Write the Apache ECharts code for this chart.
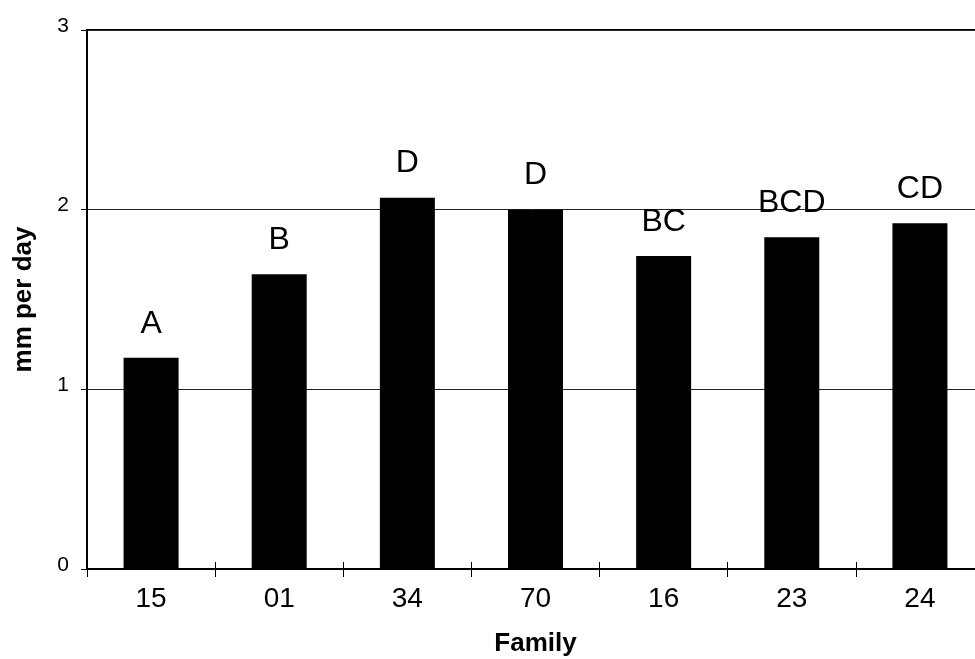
<!DOCTYPE html>
<html>
<head>
<meta charset="utf-8">
<script src="https://cdn.jsdelivr.net/npm/echarts@6/dist/echarts.min.js"></script>
<style>
html,body{margin:0;padding:0;background:#fff;}
#chart{width:975px;height:659px;}
</style>
</head>
<body>
<div id="chart"></div>
<script>
var families = ['15', '01', '34', '70', '16', '23', '24'];
var rates = [1.176, 1.64, 2.067, 2.0, 1.742, 1.846, 1.924];
var groups = ['A', 'B', 'D', 'D', 'BC', 'BCD', 'CD'];
var yTicks = [0, 1, 2, 3];

var chart = echarts.init(document.getElementById('chart'), null, {renderer: 'canvas'});
var font = 'Liberation Sans, Arial, Helvetica, sans-serif';
chart.setOption({
  animation: false,
  backgroundColor: '#fff',
  grid: {
    left: 87, top: 30, bottom: 90, right: -9,
    outerBoundsMode: 'none',
    show: true, borderColor: '#000', borderWidth: 2
  },
  xAxis: [{
    type: 'category',
    data: families,
    position: 'bottom',
    axisLine: {lineStyle: {color: '#000', width: 2}},
    axisTick: {show: true, alignWithLabel: false, length: 8, lineStyle: {color: '#000', width: 1}},
    axisLabel: {color: '#000', fontSize: 28, fontFamily: font, margin: 16},
    name: 'Family',
    nameLocation: 'middle',
    nameGap: 62,
    nameMoveOverlap: false,
    nameTextStyle: {color: '#000', fontSize: 26, fontWeight: 'bold', fontFamily: font}
  }, {
    type: 'category',
    data: families,
    position: 'top',
    offset: -539,
    axisLine: {show: true, onZero: false, lineStyle: {color: 'rgba(0,0,0,0)', width: 1}},
    axisTick: {show: true, inside: false, length: 7, lineStyle: {color: '#000', width: 1}},
    axisLabel: {show: false}
  }],
  yAxis: {
    type: 'value',
    min: yTicks[0],
    max: yTicks[yTicks.length - 1],
    interval: 1,
    axisLine: {show: true, lineStyle: {color: '#000', width: 2}},
    axisTick: {show: true, length: 6, lineStyle: {color: '#000', width: 1}},
    axisLabel: {color: '#000', fontSize: 21, fontFamily: font, margin: 18, verticalAlign: 'bottom', lineHeight: 8},
    splitLine: {show: true, lineStyle: {color: '#222', width: 1}},
    name: 'mm per day',
    nameLocation: 'middle',
    nameGap: 50,
    nameMoveOverlap: false,
    nameTextStyle: {color: '#000', fontSize: 26, fontWeight: 'bold', fontFamily: font}
  },
  series: [{
    type: 'bar',
    data: rates,
    barWidth: 55,
    itemStyle: {color: '#000'},
    label: {
      show: true,
      position: 'top',
      distance: 18,
      color: '#000',
      fontSize: 32,
      fontFamily: font,
      formatter: function (p) { return groups[p.dataIndex]; }
    }
  }]
});
</script>
</body>
</html>
